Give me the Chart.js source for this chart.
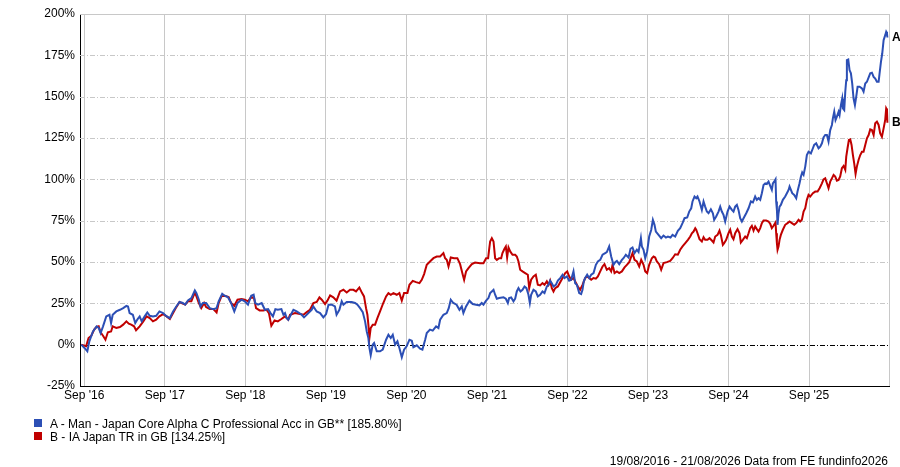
<!DOCTYPE html>
<html>
<head>
<meta charset="utf-8">
<script src="https://cdn.jsdelivr.net/npm/chart.js"></script>
<style>
  body { margin: 0; background: #fff; font-family: "Liberation Sans", Arial, sans-serif; }
  #wrap { position: relative; width: 900px; height: 467px; }
  .sw { position: absolute; left: 34px; width: 8px; height: 8px; }
  .lg { position: absolute; left: 50px; font-size: 12px; line-height: 14px; color: #000; white-space: nowrap; }
  #foot { position: absolute; right: 12px; top: 454px; font-size: 12px; line-height: 14px; color: #000; }
</style>
</head>
<body>
<div id="wrap">
  <canvas id="perfChart"></canvas>
  <div id="legend"></div>
  <div id="foot">19/08/2016 - 21/08/2026 Data from FE fundinfo2026</div>
</div>
<script>
// Series names and colours
const seriesNames = [
    "A - Man - Japan Core Alpha C Professional Acc in GB** [185.80%]",
    "B - IA Japan TR in GB [134.25%]"
];
const seriesTags = ["A", "B"];
const seriesColors = ["#2c4fb5", "#c00000"];

// Axis ticks (x in decimal years, 1 Sep each year)
const xTickPos = [2016.667, 2017.667, 2018.667, 2019.667, 2020.667, 2021.667, 2022.667, 2023.667, 2024.667, 2025.667];
const xTickLabels = ["Sep '16", "Sep '17", "Sep '18", "Sep '19", "Sep '20", "Sep '21", "Sep '22", "Sep '23", "Sep '24", "Sep '25"];
const yTickValues = [-25, 0, 25, 50, 75, 100, 125, 150, 175, 200];

// A - fund, [year, % growth]
const fundPoints = [
    [2016.63,0],[2016.67,-2.0],[2016.705,-4.0],[2016.73,2.0],[2016.775,8.0],[2016.82,11.1],[2016.846,10.1],[2016.87,7.0],
    [2016.90,11.1],[2016.94,17.1],[2016.98,18.1],[2017.00,13.1],[2017.02,18.1],[2017.065,20.1],[2017.11,21.1],[2017.15,22.1],
    [2017.19,23.5],[2017.21,23.1],[2017.23,19.1],[2017.27,18.1],[2017.30,13.1],[2017.33,15.5],[2017.355,17.1],[2017.38,14.1],
    [2017.417,17.1],[2017.45,19.5],[2017.48,17.5],[2017.52,17.1],[2017.56,17.5],[2017.60,20.1],[2017.645,19.1],[2017.69,17.1],
    [2017.73,16.1],[2017.77,20.1],[2017.81,23.1],[2017.85,25.8],[2017.89,25.2],[2017.92,24.2],[2017.955,26.8],[2017.997,28.2],
    [2018.04,32.8],[2018.06,31.2],[2018.09,27.2],[2018.11,23.1],[2018.14,25.2],[2018.18,25.2],[2018.225,22.1],[2018.27,21.5],
    [2018.31,22.1],[2018.336,26.2],[2018.38,30.8],[2018.41,29.6],[2018.45,28.8],[2018.49,25.2],[2018.53,20.1],[2018.57,25.2],
    [2018.62,27.2],[2018.66,26.2],[2018.70,24.2],[2018.74,29.6],[2018.77,30.2],[2018.79,25.2],[2018.825,24.2],[2018.87,25.2],
    [2018.91,21.1],[2018.95,21.5],[2018.98,19.1],[2019.01,17.1],[2019.04,21.5],[2019.07,21.1],[2019.115,21.5],[2019.14,18.1],
    [2019.16,19.1],[2019.18,16.1],[2019.20,15.1],
    [2019.264,21.1],[2019.305,20.1],[2019.367,18.1],[2019.396,16.5],[2019.45,19.1],[2019.49,21.1],[2019.512,23.1],[2019.553,20.1],
    [2019.595,19.1],[2019.636,16.5],[2019.67,18.5],[2019.70,24.2],[2019.74,24.2],[2019.78,23.1],[2019.80,18.1],[2019.835,21.1],
    [2019.864,26.2],[2019.885,24.2],[2019.926,25.8],[2019.988,25.8],[2020.03,25.2],[2020.059,24.2],[2020.092,22.1],[2020.125,19.7],
    [2020.154,14.1],[2020.175,8.0],[2020.195,4.0],[2020.208,-2.0],[2020.224,-6.4],[2020.249,0],[2020.266,1.0],[2020.299,-4.0],
    [2020.34,-4.0],[2020.373,-3.0],[2020.415,3.0],[2020.444,6.0],[2020.473,4.0],[2020.498,6.0],[2020.527,0],[2020.556,2.0],
    [2020.58,-2.0],[2020.61,-7.6],[2020.638,-3.0],[2020.67,-1.0],[2020.705,3.0],[2020.734,2.4],[2020.754,-1.6],[2020.796,-0.4],
    [2020.837,-2.4],[2020.866,-3.0],[2020.90,3.0],[2020.92,7.0],[2020.96,9.1],[2020.994,8.5],[2021.036,11.1],[2021.065,10.1],
    [2021.086,15.1],[2021.127,18.1],[2021.168,19.1],[2021.193,22.1],[2021.218,27.2],[2021.25,25.2],[2021.29,24.2],[2021.326,21.1],
    [2021.355,23.1],[2021.375,19.1],[2021.408,23.1],[2021.45,26.6],[2021.49,24.6],[2021.533,24.2],[2021.574,23.8],[2021.603,25.2],
    [2021.624,24.2],[2021.657,26.6],[2021.686,28.2],[2021.707,31.2],
    [2021.728,32.2],[2021.749,33.2],[2021.769,30.2],[2021.79,27.8],[2021.819,28.2],[2021.873,28.6],[2021.902,27.8],[2021.927,25.2],
    [2021.943,28.2],[2021.968,28.6],[2021.997,26.2],[2022.018,27.8],[2022.038,32.2],[2022.059,34.2],[2022.084,32.2],[2022.109,33.2],
    [2022.134,35.2],[2022.158,34.2],[2022.183,30.2],[2022.2,25.2],[2022.216,30.2],[2022.245,33.2],[2022.274,32.2],[2022.299,29.2],
    [2022.328,30.2],[2022.357,32.2],[2022.382,31.2],[2022.411,35.2],[2022.432,36.2],[2022.452,38.7],[2022.473,37.2],[2022.494,35.2],
    [2022.523,36.2],[2022.548,38.7],[2022.577,40.3],[2022.606,42.3],[2022.63,40.3],[2022.66,41.3],[2022.688,38.7],[2022.713,39.3],
    [2022.742,44.3],[2022.763,37.2],[2022.784,36.2],[2022.813,31.2],[2022.837,30.6],[2022.854,33.2],[2022.87,38.3],[2022.887,40.3],
    [2022.912,42.3],[2022.937,40.3],[2022.962,42.3],[2022.991,43.3],[2023.02,48.3],[2023.045,50.3],[2023.074,51.3],[2023.103,54.4],
    [2023.136,55.4],[2023.156,56.0],[2023.185,59.4],[2023.21,53.3],[2023.239,48.3],[2023.26,49.9],[2023.281,50.7],[2023.31,48.7],
    [2023.343,51.3],[2023.363,52.3],[2023.392,54.4],[2023.426,52.7],[2023.45,58.0],[2023.475,58.8],[2023.5,55.4],[2023.529,57.4],
    [2023.55,56.0],[2023.579,64.4],[2023.591,59.4],[2023.612,57.4],[2023.633,52.3],[2023.657,56.4],[2023.682,65.4],[2023.707,69.4],
    [2023.728,75.5],[2023.748,72.5],[2023.765,68.4],[2023.798,66.4],[2023.831,64.4],[2023.86,66.0],[2023.89,64.8],[2023.914,65.4],
    [2023.947,64.8],[2023.972,66.4],[2024.005,65.4],[2024.038,68.8],[2024.067,70.4],[2024.096,73.5],[2024.121,76.5],[2024.154,76.9],
    [2024.179,80.5],[2024.204,82.5],[2024.22,86.6],[2024.245,89.6],
    [2024.266,88.6],[2024.282,89.6],[2024.307,86.6],[2024.336,81.5],[2024.357,86.6],[2024.377,83.5],[2024.398,80.5],[2024.419,79.5],
    [2024.448,81.9],[2024.473,79.5],[2024.489,75.5],[2024.514,77.5],[2024.543,80.5],[2024.564,83.5],[2024.584,80.5],[2024.605,78.5],
    [2024.626,74.5],[2024.655,80.5],[2024.68,83.5],[2024.709,81.5],[2024.729,80.5],[2024.75,83.5],[2024.771,84.5],[2024.791,81.5],
    [2024.812,76.5],[2024.833,74.5],[2024.854,76.5],[2024.887,79.5],[2024.916,82.5],[2024.945,86.6],[2024.97,86.0],[2024.998,89.6],
    [2025.019,87.6],[2025.04,88.6],[2025.061,87.6],[2025.081,91.6],[2025.102,96.6],[2025.123,97.6],[2025.143,97.2],[2025.164,98.6],
    [2025.185,96.0],[2025.205,93.6],[2025.218,97.6],[2025.234,98.6],[2025.251,100.0],[2025.259,86.6],[2025.268,81.5],[2025.276,72.5],
    [2025.288,79.5],[2025.301,83.5],[2025.317,84.5],[2025.342,87.6],[2025.371,89.6],[2025.392,91.6],[2025.413,93.6],[2025.425,95.6],
    [2025.442,93.6],[2025.458,91.6],[2025.483,90.6],[2025.508,88.6],[2025.524,92.6],[2025.549,97.6],[2025.566,101.6],[2025.582,104.1],
    [2025.599,102.7],[2025.62,107.7],[2025.64,114.7],[2025.661,116.7],[2025.69,115.7],[2025.715,118.8],[2025.731,120.8],[2025.756,121.8],
    [2025.785,118.8],[2025.806,119.8],[2025.827,121.8],[2025.847,125.4],[2025.868,126.8],[2025.889,126.8],[2025.909,122.8],[2025.93,129.8],
    [2025.951,132.9],[2025.963,136.9],[2025.98,140.9],[2025.996,135.9],[2026.013,137.9],[2026.034,140.9],[2026.046,138.9],[2026.063,144.9],
    [2026.079,148.9],[2026.088,142.9],[2026.104,141.9],[2026.117,153.0],[2026.129,160.0],[2026.137,172.1],[2026.154,172.5],[2026.17,166.1],
    [2026.187,164.1],[2026.203,158.0],[2026.22,148.9],[2026.237,144.9],[2026.253,150.0],[2026.27,156.0],[2026.295,156.0],[2026.324,155.0],
    [2026.344,153.0],[2026.365,158.0],[2026.386,159.0],[2026.427,164.1],[2026.448,164.5],[2026.469,162.0],[2026.489,161.0],[2026.51,159.0],
    [2026.531,159.0],[2026.543,164.1],[2026.56,171.1],[2026.576,176.1],[2026.593,184.2],[2026.613,187.2],[2026.625,189.2],[2026.635,188.2],
    [2026.64,185.8]
];

// B - sector average, [year, % growth]
const sectorPoints = [
    [2016.63,0],[2016.69,-1.0],[2016.72,4.0],[2016.755,5.4],[2016.79,9.1],[2016.82,10.7],[2016.846,11.1],[2016.87,7.5],
    [2016.90,5.4],[2016.93,3.0],[2016.96,7.5],[2017.00,8.0],[2017.02,11.1],[2017.065,10.1],[2017.11,10.7],[2017.15,12.1],
    [2017.19,14.1],[2017.22,12.7],[2017.25,12.1],[2017.285,11.1],[2017.31,8.7],[2017.355,11.1],[2017.40,14.1],[2017.44,17.1],
    [2017.48,16.1],[2017.52,14.1],[2017.56,15.1],[2017.60,17.1],[2017.645,18.5],[2017.69,17.1],[2017.73,15.5],[2017.77,19.1],
    [2017.81,22.7],[2017.85,25.8],[2017.89,24.8],[2017.92,24.2],[2017.955,26.2],[2017.997,26.2],[2018.04,31.6],[2018.06,29.2],
    [2018.09,25.2],[2018.12,22.1],[2018.155,25.2],[2018.18,22.7],[2018.225,21.5],[2018.27,21.5],[2018.31,19.5],[2018.336,25.2],
    [2018.37,29.2],[2018.41,29.6],[2018.46,28.8],[2018.49,25.2],[2018.53,23.5],[2018.57,27.2],[2018.62,27.6],[2018.66,27.2],
    [2018.70,26.2],[2018.74,28.8],[2018.775,28.2],[2018.80,22.1],[2018.845,20.7],[2018.89,20.7],[2018.93,21.1],[2018.96,19.1],
    [2018.99,11.5],[2019.03,14.7],[2019.07,14.1],[2019.115,15.5],[2019.16,17.1],[2019.20,15.1],
    [2019.222,18.1],[2019.284,19.1],[2019.346,18.5],[2019.388,18.1],[2019.43,19.7],[2019.47,21.1],[2019.512,25.2],[2019.553,25.8],
    [2019.587,28.6],[2019.616,27.2],[2019.657,24.6],[2019.686,26.6],[2019.72,29.8],[2019.76,28.6],[2019.80,26.6],[2019.843,32.2],
    [2019.885,33.2],[2019.926,31.6],[2019.967,33.2],[2020.009,33.2],[2020.042,32.2],[2020.083,34.6],[2020.117,31.2],[2020.141,29.2],
    [2020.166,22.1],[2020.183,18.1],[2020.195,12.1],[2020.208,4.0],[2020.224,10.1],[2020.249,12.1],[2020.278,12.1],[2020.307,16.1],
    [2020.34,20.1],[2020.38,25.2],[2020.415,29.2],[2020.444,31.2],[2020.473,30.2],[2020.506,31.2],[2020.547,30.2],[2020.58,31.2],
    [2020.61,26.6],[2020.638,31.2],[2020.68,31.2],[2020.705,36.2],[2020.746,38.6],[2020.787,37.8],[2020.829,37.2],[2020.858,39.2],
    [2020.887,42.7],[2020.92,48.3],[2020.96,50.3],[2021.003,52.3],[2021.044,53.3],[2021.086,53.3],[2021.127,55.4],[2021.148,52.3],
    [2021.168,51.3],[2021.19,47.3],[2021.218,52.7],[2021.26,52.3],[2021.30,52.3],[2021.334,48.7],[2021.367,42.3],[2021.384,39.2],
    [2021.408,44.3],[2021.438,46.3],[2021.48,48.7],[2021.52,49.7],[2021.582,49.3],[2021.624,49.3],[2021.657,52.3],[2021.682,52.3],
    [2021.694,57.4],[2021.707,62.4],
    [2021.728,64.4],[2021.749,62.4],[2021.769,52.3],[2021.79,51.3],[2021.819,52.3],[2021.844,52.3],[2021.86,55.4],[2021.885,58.0],
    [2021.902,59.4],[2021.918,52.7],[2021.935,58.8],[2021.956,56.4],[2021.985,54.4],[2022.018,54.4],[2022.038,53.3],[2022.059,50.3],
    [2022.08,45.3],[2022.109,44.3],[2022.142,43.3],[2022.175,42.3],[2022.192,34.2],[2022.216,39.3],[2022.245,41.3],[2022.274,42.3],
    [2022.299,36.2],[2022.328,35.8],[2022.357,37.2],[2022.382,36.2],[2022.411,38.3],[2022.432,36.2],[2022.452,38.7],[2022.473,34.2],
    [2022.494,32.2],[2022.515,34.2],[2022.548,35.2],[2022.577,37.8],[2022.606,40.3],[2022.639,43.3],[2022.664,44.3],[2022.688,41.3],
    [2022.713,39.3],[2022.742,40.3],[2022.763,38.3],[2022.796,35.2],[2022.825,33.2],[2022.854,36.2],[2022.887,40.3],[2022.912,41.3],
    [2022.937,40.3],[2022.962,39.3],[2022.991,40.3],[2023.02,39.9],[2023.045,41.3],[2023.074,44.3],[2023.103,47.3],[2023.127,48.7],
    [2023.156,45.3],[2023.185,46.3],[2023.21,44.3],[2023.227,48.3],[2023.252,43.3],[2023.281,44.3],[2023.31,43.3],[2023.343,44.3],
    [2023.376,46.7],[2023.405,48.3],[2023.434,49.9],[2023.459,53.3],[2023.475,55.4],[2023.5,51.3],[2023.529,50.3],[2023.558,47.3],
    [2023.583,51.3],[2023.612,48.3],[2023.633,44.3],[2023.657,43.3],[2023.682,48.3],[2023.715,52.3],[2023.736,53.3],[2023.757,52.7],
    [2023.777,50.3],[2023.806,48.7],[2023.831,45.3],[2023.86,49.3],[2023.902,49.9],[2023.943,50.7],[2023.972,52.3],[2024.005,54.7],
    [2024.038,54.4],[2024.067,57.4],[2024.096,59.4],[2024.13,61.4],[2024.163,63.4],[2024.192,65.4],[2024.212,67.4],[2024.233,68.4],
    [2024.254,70.4],
    [2024.266,69.5],[2024.282,67.4],[2024.307,63.8],[2024.336,62.4],[2024.357,65.0],[2024.377,63.4],[2024.406,63.4],[2024.431,64.4],
    [2024.46,63.0],[2024.481,61.8],[2024.502,65.4],[2024.531,66.4],[2024.555,69.0],[2024.572,66.4],[2024.597,60.4],[2024.613,61.4],
    [2024.638,63.4],[2024.667,67.4],[2024.688,69.5],[2024.709,65.4],[2024.729,63.8],[2024.75,67.4],[2024.779,69.9],[2024.804,67.4],
    [2024.82,61.8],[2024.845,63.4],[2024.874,65.4],[2024.895,64.4],[2024.916,67.4],[2024.936,70.5],[2024.957,71.9],[2024.978,69.0],
    [2024.998,71.5],[2025.019,69.9],[2025.04,68.4],[2025.061,70.5],[2025.081,73.5],[2025.102,75.1],[2025.135,75.1],[2025.164,74.5],
    [2025.185,73.1],[2025.205,70.5],[2025.226,71.9],[2025.251,73.9],[2025.259,67.4],[2025.268,61.4],[2025.276,57.4],[2025.288,59.4],
    [2025.301,63.4],[2025.317,66.4],[2025.342,69.5],[2025.371,72.5],[2025.4,73.5],[2025.425,74.5],[2025.454,73.5],[2025.483,72.5],
    [2025.508,73.5],[2025.537,75.5],[2025.557,74.5],[2025.578,75.5],[2025.599,80.5],[2025.62,82.5],[2025.64,87.6],[2025.661,90.6],
    [2025.682,89.6],[2025.715,91.6],[2025.744,92.6],[2025.773,92.6],[2025.798,94.6],[2025.827,97.6],[2025.847,100.0],[2025.868,100.6],
    [2025.889,97.6],[2025.909,94.6],[2025.93,98.6],[2025.951,100.6],[2025.972,102.7],[2025.992,101.7],[2026.013,99.2],[2026.034,99.6],
    [2026.054,101.7],[2026.075,106.7],[2026.096,108.1],[2026.117,105.7],[2026.129,113.7],[2026.145,118.8],[2026.162,123.8],[2026.179,124.2],
    [2026.195,120.8],[2026.212,114.7],[2026.228,109.7],[2026.245,103.3],[2026.261,107.7],[2026.282,111.7],[2026.303,114.7],[2026.324,116.7],
    [2026.344,116.7],[2026.365,120.8],[2026.386,124.8],[2026.407,126.8],[2026.427,130.2],[2026.448,129.8],[2026.469,126.8],[2026.489,133.9],
    [2026.51,134.9],[2026.531,132.9],[2026.551,127.8],[2026.572,125.8],[2026.593,130.8],[2026.613,135.9],[2026.625,142.9],[2026.635,141.9],
    [2026.64,134.25]
];

const FONT = { family: '"Liberation Sans", Arial, sans-serif', size: 12 };

// Legend built from the series names
const legendBox = document.getElementById("legend");
seriesNames.forEach((name, i) => {
    const sw = document.createElement("div");
    sw.className = "sw";
    sw.style.top = (419 + i * 13) + "px";
    sw.style.background = seriesColors[i];
    const tx = document.createElement("div");
    tx.className = "lg";
    tx.style.top = (417 + i * 13) + "px";
    tx.textContent = name;
    legendBox.appendChild(sw);
    legendBox.appendChild(tx);
});

// Dash-dot horizontal grid, zero line and frame
const gridPlugin = {
    id: "fegrid",
    beforeDatasetsDraw(chart) {
        const { ctx, chartArea, scales } = chart;
        ctx.save();
        ctx.lineWidth = 1;
        yTickValues.forEach(v => {
            if (v === -25) return;
            const y = Math.round(scales.y.getPixelForValue(v)) + 0.5;
            if (v === 200) {
                ctx.setLineDash([]);
                ctx.strokeStyle = "#c8c8c8";
            } else {
                ctx.setLineDash([5, 2, 1, 2]);
                ctx.strokeStyle = v === 0 ? "#000" : "#c8c8c8";
            }
            ctx.beginPath();
            ctx.moveTo(chartArea.left, y);
            ctx.lineTo(chartArea.right, y);
            ctx.stroke();
        });
        ctx.setLineDash([]);
        ctx.strokeStyle = "#c8c8c8";
        const xr = Math.round(chartArea.right) + 0.5;
        ctx.beginPath();
        ctx.moveTo(xr, chartArea.top);
        ctx.lineTo(xr, chartArea.bottom);
        ctx.stroke();
        ctx.restore();
    }
};

// "A" / "B" tags at the end of each line
const tagPlugin = {
    id: "endtags",
    afterDatasetsDraw(chart) {
        const { ctx, chartArea } = chart;
        ctx.save();
        ctx.font = "bold 12px " + FONT.family;
        ctx.fillStyle = "#000";
        ctx.textBaseline = "middle";
        chart.data.datasets.forEach((ds, i) => {
            const meta = chart.getDatasetMeta(i);
            const last = meta.data[meta.data.length - 1];
            ctx.fillText(seriesTags[i], chartArea.right + 3, last.y);
        });
        ctx.restore();
    }
};

const toXY = pts => pts.map(p => ({ x: p[0], y: p[1] }));

new Chart(document.getElementById("perfChart").getContext("2d"), {
    type: "line",
    data: {
        datasets: [
            { label: seriesNames[0], data: toXY(fundPoints), borderColor: seriesColors[0], borderWidth: 2, pointRadius: 0, tension: 0 },
            { label: seriesNames[1], data: toXY(sectorPoints), borderColor: seriesColors[1], borderWidth: 2, pointRadius: 0, tension: 0 }
        ]
    },
    options: {
        responsive: true,
        maintainAspectRatio: false,
        animation: false,
        layout: { padding: { left: 0, top: 14, right: 11, bottom: 0 } },
        plugins: { legend: { display: false }, tooltip: { enabled: false } },
        scales: {
            x: {
                type: "linear",
                min: 2016.614,
                max: 2026.66,
                afterBuildTicks: s => { s.ticks = xTickPos.map(v => ({ value: v })); },
                afterFit: s => { s.height = 81; },
                ticks: {
                    autoSkip: false,
                    maxRotation: 0,
                    padding: 2,
                    color: "#000",
                    font: FONT,
                    callback: (v, i) => xTickLabels[i]
                },
                grid: { color: "#c8c8c8", drawTicks: false },
                border: { color: "#000", width: 1 }
            },
            y: {
                min: -25,
                max: 200,
                afterBuildTicks: s => { s.ticks = yTickValues.map(v => ({ value: v })); },
                afterFit: s => { s.width = 80; },
                ticks: {
                    padding: 5,
                    color: "#000",
                    font: FONT,
                    callback: v => v + "%"
                },
                grid: { drawOnChartArea: false, drawTicks: false },
                border: { color: "#000", width: 1 }
            }
        }
    },
    plugins: [gridPlugin, tagPlugin]
});
</script>
</body>
</html>
